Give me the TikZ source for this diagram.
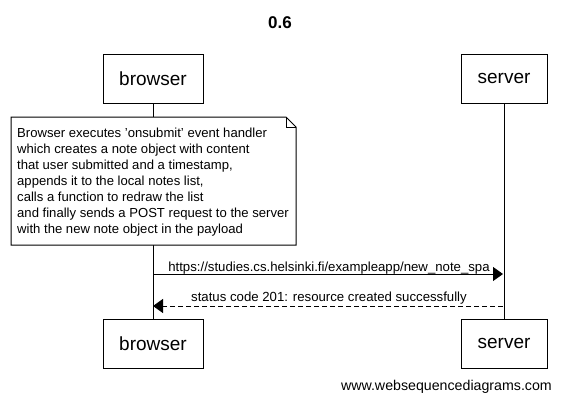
\documentclass[tikz,border=0pt]{standalone}
\usepackage{fontspec}
\setmainfont{Liberation Sans}
\usetikzlibrary{arrows.meta,calc}
\begin{document}
\begin{tikzpicture}[x=1pt,y=-1pt,
  actor/.style={draw,line width=1pt,fill=white,minimum height=49pt,inner sep=0pt,font=\fontsize{19}{22}\selectfont},
  msg/.style={line width=1pt,-{Triangle[length=10pt,width=14pt]}},
  lbl/.style={font=\fontsize{13.2}{15}\selectfont,inner sep=0pt},
  life/.style={line width=1pt}]
\useasboundingbox[fill=white] (0,0) rectangle (561,402);
\node[font=\bfseries\fontsize{17}{20}\selectfont] (title) at (280,23) {0.6};
\node[actor,minimum width=100pt] (b1) at (153,78.5) {browser};
\node[actor,minimum width=86pt] (s1) at (504,78.5) {server};
\node[actor,minimum width=100pt] (b2) at (153,343.5) {browser};
\node[actor,minimum width=86pt] (s2) at (504,343.5) {server};
\draw[life] (b1.south) -- (b2.north);
\draw[life] (s1.south) -- (s2.north);
\draw[line width=1pt,fill=white] (11,117) -- (286,117) -- (296,127) -- (296,245) -- (11,245) -- cycle;
\draw[line width=1pt] (286,117) -- (286,127) -- (296,127);
\node[anchor=north west,align=left,inner sep=0pt,font=\fontsize{13.1}{16}\selectfont] (note) at (17,127.5)
{Browser executes 'onsubmit' event handler\\
which creates a note object with content\\
that user submitted and a timestamp,\\
appends it to the local notes list,\\
calls a function to redraw the list\\
and finally sends a POST request to the server\\
with the new note object in the payload};
\coordinate (a1s) at (153,274);
\coordinate (a1e) at (503,274);
\coordinate (a2s) at (503,306);
\coordinate (a2e) at (153,306);
\draw[msg] (a1s) -- (a1e);
\node[lbl] (l1) at (329,268) {https://studies.cs.helsinki.fi/exampleapp/new\_note\_spa};
\draw[msg,dashed,dash pattern=on 5pt off 3pt] (a2s) -- (a2e);
\node[lbl] (l2) at (329,298) {status code 201: resource created successfully};
\node[anchor=east,inner sep=0pt,font=\fontsize{14.2}{16}\selectfont] (wm) at (552,387) {www.websequencediagrams.com};
\end{tikzpicture}
\end{document}
